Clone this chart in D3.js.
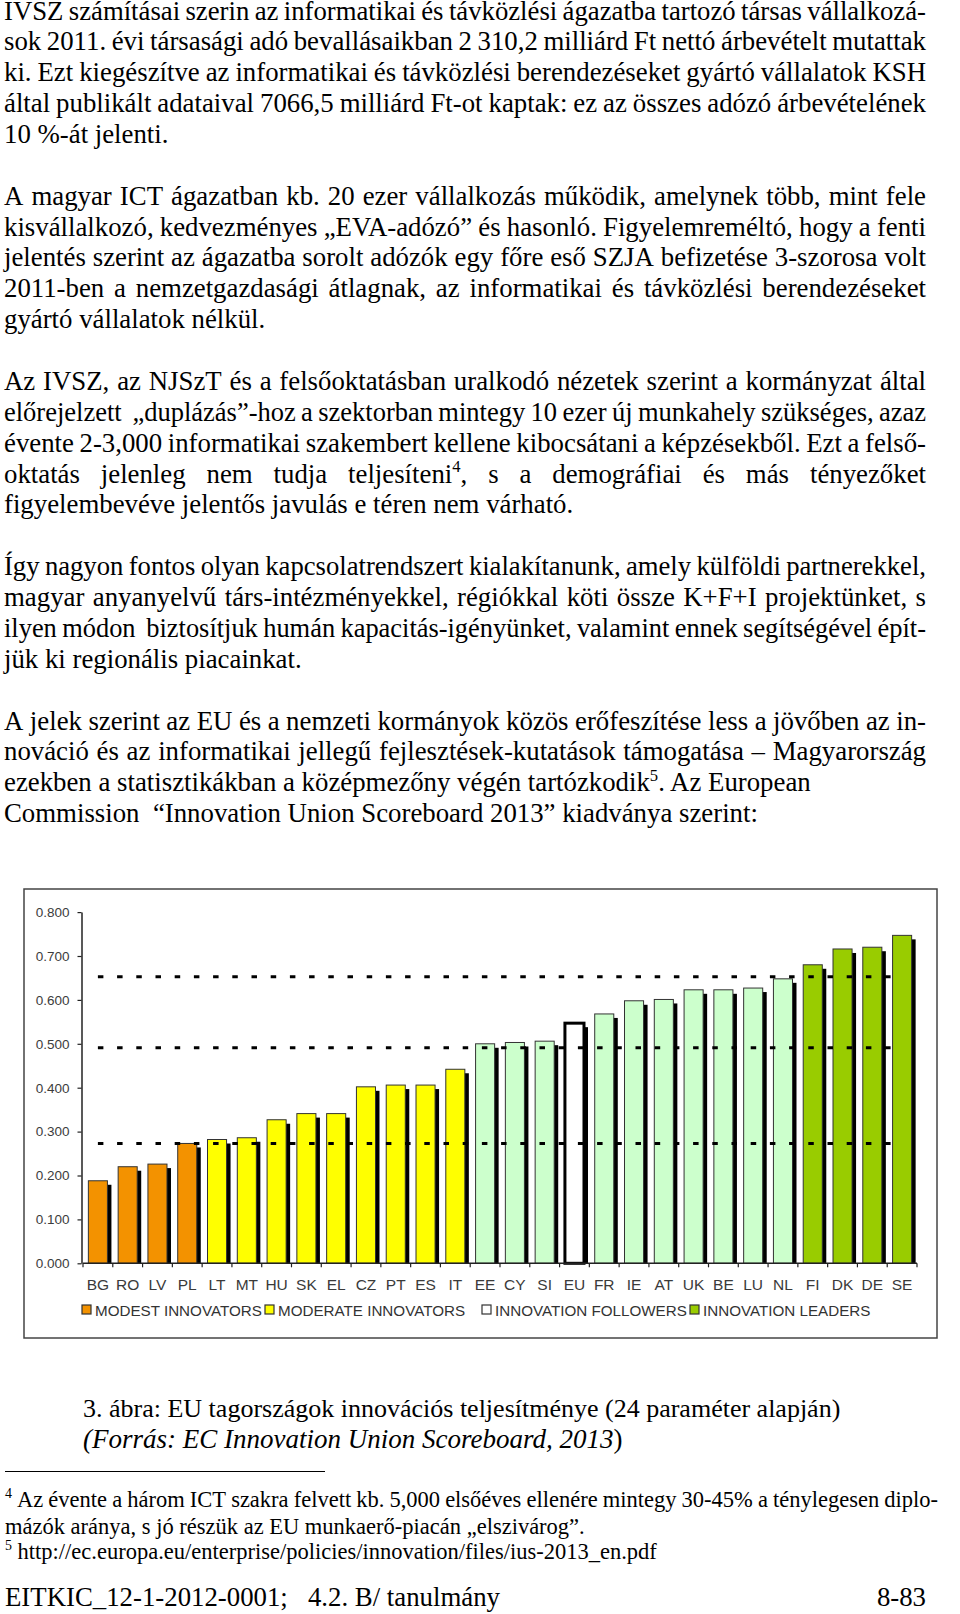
<!DOCTYPE html>
<html>
<head>
<meta charset="utf-8">
<script src="https://cdn.jsdelivr.net/npm/d3@7"></script>
<style>
  html, body { margin: 0; padding: 0; background: #fff; }
  svg { display: block; }
</style>
</head>
<body>
<div id="page"></div>
<script>
// ---- chart data ----
const countries = ["BG", "RO", "LV", "PL", "LT", "MT", "HU", "SK", "EL", "CZ", "PT", "ES", "IT", "EE",
  "CY", "SI", "EU", "FR", "IE", "AT", "UK", "BE", "LU", "NL", "FI", "DK", "DE", "SE"];
const scores = [0.188, 0.220, 0.226, 0.273, 0.282, 0.286, 0.327, 0.341, 0.341, 0.402, 0.406, 0.406, 0.442, 0.500,
  0.503, 0.506, 0.547, 0.568, 0.598, 0.601, 0.623, 0.623, 0.627, 0.648, 0.680, 0.716, 0.720, 0.747];
const groups = ["modest", "modest", "modest", "modest",
  "moderate", "moderate", "moderate", "moderate", "moderate", "moderate", "moderate", "moderate", "moderate",
  "follower", "follower", "follower", "eu", "follower", "follower", "follower", "follower", "follower", "follower", "follower",
  "leader", "leader", "leader", "leader"];
const thresholds = [0.653, 0.491, 0.273];
const yTicks = [0, 0.1, 0.2, 0.3, 0.4, 0.5, 0.6, 0.7, 0.8];
const legendGroups = ["modest", "moderate", "follower", "leader"];
const legendLabels = ["MODEST INNOVATORS", "MODERATE INNOVATORS", "INNOVATION FOLLOWERS", "INNOVATION LEADERS"];

const groupColors = {
  modest: "#F39200",
  moderate: "#FFFF00",
  follower: "#CCFFCC",
  leader: "#99CC00",
  eu: "#FFFFFF"
};
const legendColors = {
  modest: "#F39200",
  moderate: "#FFFF00",
  follower: "#FFFFFF",
  leader: "#99CC00"
};

// ---- page text ----
const para1 = [
  "IVSZ számításai szerin az informatikai és távközlési ágazatba tartozó társas vállalkozá-",
  "sok 2011. évi társasági adó bevallásaikban 2 310,2 milliárd Ft nettó árbevételt mutattak",
  "ki. Ezt kiegészítve az informatikai és távközlési berendezéseket gyártó vállalatok KSH",
  "által publikált adataival 7066,5 milliárd Ft-ot kaptak: ez az összes adózó árbevételének",
  "10 %-át jelenti."
];
const para2 = [
  "A magyar ICT ágazatban kb. 20 ezer vállalkozás működik, amelynek több, mint fele",
  "kisvállalkozó, kedvezményes „EVA-adózó” és hasonló. Figyelemreméltó, hogy a fenti",
  "jelentés szerint az ágazatba sorolt adózók egy főre eső SZJA befizetése 3-szorosa volt",
  "2011-ben a nemzetgazdasági átlagnak, az informatikai és távközlési berendezéseket",
  "gyártó vállalatok nélkül."
];
const para3 = [
  "Az IVSZ, az NJSzT és a felsőoktatásban uralkodó nézetek szerint a kormányzat által",
  "előrejelzett  „duplázás”-hoz a szektorban mintegy 10 ezer új munkahely szükséges, azaz",
  "évente 2-3,000 informatikai szakembert kellene kibocsátani a képzésekből. Ezt a felső-",
  "oktatás jelenleg nem tudja teljesíteni^4, s a demográfiai és más tényezőket",
  "figyelembevéve jelentős javulás e téren nem várható."
];
const para4 = [
  "Így nagyon fontos olyan kapcsolatrendszert kialakítanunk, amely külföldi partnerekkel,",
  "magyar anyanyelvű társ-intézményekkel, régiókkal köti össze K+F+I projektünket, s",
  "ilyen módon  biztosítjuk humán kapacitás-igényünket, valamint ennek segítségével épít-",
  "jük ki regionális piacainkat."
];
const para5 = [
  "A jelek szerint az EU és a nemzeti kormányok közös erőfeszítése less a jövőben az in-",
  "nováció és az informatikai jellegű fejlesztések-kutatások támogatása – Magyarország",
  "ezekben a statisztikákban a középmezőny végén tartózkodik^5. Az European",
  "Commission  “Innovation Union Scoreboard 2013” kiadványa szerint:"
];
const paragraphs = [para1, para2, para3, para4, para5];
const justifiedCounts = [4, 4, 4, 3, 2];

const footnotes = [
  "^4 Az évente a három ICT szakra felvett kb. 5,000 elsőéves ellenére mintegy 30-45% a ténylegesen diplo-",
  "mázók aránya, s jó részük az EU munkaerő-piacán „elszivárog”.",
  "^5 http://ec.europa.eu/enterprise/policies/innovation/files/ius-2013_en.pdf"
];

const width = 960;
const height = 1614;
const serif = "'Liberation Serif', 'Times New Roman', serif";
const sans = "'Liberation Sans', Arial, sans-serif";

const svg = d3.select("#page")
  .append("svg")
  .attr("width", width)
  .attr("height", height)
  .attr("viewBox", `0 0 ${width} ${height}`);

svg.append("rect").attr("width", width).attr("height", height).attr("fill", "#fff");

// writes "word^4" style strings as tspans, superscript digits raised
function addRich(text, str, fontSize) {
  const parts = str.split(/\^(\d)/);
  let raised = false;
  parts.forEach((part, i) => {
    if (part === "") return;
    const sup = i % 2 === 1;
    const t = text.append("tspan").text(part);
    if (sup) {
      t.attr("font-size", fontSize * 0.62).attr("dy", -fontSize * 0.38);
      raised = true;
    } else if (raised) {
      t.attr("dy", fontSize * 0.38);
      raised = false;
    }
  });
}

function drawLine(g, str, x0, x1, y, justify, fontSize) {
  if (!justify) {
    const t = g.append("text")
      .attr("x", x0)
      .attr("y", y)
      .attr("font-size", fontSize)
      .style("white-space", "pre");
    addRich(t, str, fontSize);
    return;
  }
  const words = str.split(" ");
  const nodes = words.map(w => {
    const t = g.append("text").attr("y", y).attr("font-size", fontSize);
    addRich(t, w, fontSize);
    return t;
  });
  let widths = nodes.map(n => n.node().getComputedTextLength());
  const minGap = fontSize * 0.2;
  const room = x1 - x0 - minGap * (words.length - 1);
  // squeeze the glyphs a little when the line would not fit with normal spaces
  if (d3.sum(widths) > room) {
    const s = room / d3.sum(widths);
    nodes.forEach((n, i) => {
      if (widths[i] > 0 && n.selectAll("tspan").size() === 1) {
        n.attr("textLength", widths[i] * s).attr("lengthAdjust", "spacingAndGlyphs");
      }
    });
    widths = widths.map(w => w * s);
  }
  const gap = (x1 - x0 - d3.sum(widths)) / (words.length - 1);
  let x = x0;
  nodes.forEach((n, i) => {
    n.attr("x", x);
    n.selectAll("tspan").filter((d, j) => j === 0).attr("x", x);
    x += widths[i] + gap;
  });
}

// ---- body text ----
const body = svg.append("g").attr("font-family", serif).attr("fill", "#000");
const bodySize = 26.8;
const firstBaseline = 19.5;
const linePitch = 30.87;
const textLeft = 4;
const textRight = 926;

let k = 0;
paragraphs.forEach((para, p) => {
  para.forEach((line, i) => {
    drawLine(body, line, textLeft, textRight, firstBaseline + k * linePitch, i < justifiedCounts[p], bodySize);
    k += 1;
  });
  k += 1;
});

// ---- chart ----
const chart = svg.append("g");

chart.append("rect")
  .attr("x", 24)
  .attr("y", 889)
  .attr("width", 913)
  .attr("height", 449)
  .attr("fill", "#fff")
  .attr("stroke", "#444")
  .attr("stroke-width", 1.5);

const x = d3.scaleBand()
  .domain(countries)
  .range([83, 917])
  .paddingInner(0.36)
  .paddingOuter(0.18);

const y = d3.scaleLinear()
  .domain([0, 0.8])
  .range([1263.3, 912.1]);

const shadowOffset = 4;
const rows = countries.map((c, i) => ({ country: c, value: scores[i], group: groups[i] }));

chart.append("g")
  .selectAll("rect")
  .data(rows)
  .join("rect")
  .attr("x", d => x(d.country) + shadowOffset)
  .attr("y", d => y(d.value) + shadowOffset)
  .attr("width", x.bandwidth())
  .attr("height", d => y(0) - y(d.value) - shadowOffset)
  .attr("fill", "#000");

chart.append("g")
  .selectAll("rect")
  .data(rows)
  .join("rect")
  .attr("x", d => x(d.country))
  .attr("y", d => y(d.value))
  .attr("width", x.bandwidth())
  .attr("height", d => y(0) - y(d.value))
  .attr("fill", d => groupColors[d.group])
  .attr("stroke", d => d.group === "eu" ? "#000" : "#333")
  .attr("stroke-width", d => d.group === "eu" ? 3 : 1);

// group threshold lines
const lineStart = x(countries[0]) + x.bandwidth() / 2;
const lineEnd = x(countries[countries.length - 1]) + x.bandwidth() / 2;
chart.append("g")
  .selectAll("line")
  .data(thresholds)
  .join("line")
  .attr("x1", lineStart)
  .attr("x2", lineEnd)
  .attr("y1", d => y(d))
  .attr("y2", d => y(d))
  .attr("stroke", "#000")
  .attr("stroke-width", 3)
  .attr("stroke-dasharray", "5.5,13.7");

// y axis
const yAxis = chart.append("g")
  .attr("transform", "translate(81.5,0)")
  .call(d3.axisLeft(y).tickValues(yTicks).tickFormat(d3.format(".3f")).tickSize(4).tickSizeOuter(0).tickPadding(8));
yAxis.select(".domain").attr("stroke", "#222").attr("stroke-width", 1.5);
yAxis.selectAll(".tick line").attr("stroke", "#222").attr("stroke-width", 1.2);
yAxis.selectAll(".tick text")
  .attr("font-family", sans)
  .attr("font-size", 13.5)
  .attr("fill", "#3c3c3c");

// x axis with ticks between categories
const step = x.step();
const edge = x.range()[0];
const xAxis = chart.append("g");
xAxis.append("line")
  .attr("x1", x.range()[0])
  .attr("x2", x.range()[1])
  .attr("y1", y(0))
  .attr("y2", y(0))
  .attr("stroke", "#222")
  .attr("stroke-width", 1.5);
xAxis.selectAll("line.tick")
  .data(countries.concat(["end"]))
  .join("line")
  .attr("class", "tick")
  .attr("x1", (d, i) => edge + i * step)
  .attr("x2", (d, i) => edge + i * step)
  .attr("y1", y(0))
  .attr("y2", y(0) + 4)
  .attr("stroke", "#222")
  .attr("stroke-width", 1.2);
xAxis.selectAll("text")
  .data(countries)
  .join("text")
  .attr("x", d => x(d) + x.bandwidth() / 2)
  .attr("y", 1290)
  .attr("text-anchor", "middle")
  .attr("font-family", sans)
  .attr("font-size", 15.5)
  .attr("fill", "#3a3a3a")
  .text(d => d);

// legend, squares placed where the scan has them
const legendX = [82, 265, 482, 690];
const legend = chart.append("g").attr("font-family", sans).attr("font-size", 15.2).attr("fill", "#333");
legendGroups.forEach((g, i) => {
  legend.append("rect")
    .attr("x", legendX[i])
    .attr("y", 1305)
    .attr("width", 9)
    .attr("height", 9)
    .attr("fill", legendColors[g])
    .attr("stroke", "#333")
    .attr("stroke-width", 1.2);
  legend.append("text")
    .attr("x", legendX[i] + 13)
    .attr("y", 1315.5)
    .text(legendLabels[i]);
});

// ---- caption ----
const caption = svg.append("g").attr("font-family", serif).attr("fill", "#000");
caption.append("text")
  .attr("x", 83)
  .attr("y", 1417)
  .attr("font-size", 26)
  .text("3. ábra: EU tagországok innovációs teljesítménye (24 paraméter alapján)");
const cap2 = caption.append("text").attr("x", 83).attr("y", 1448).attr("font-size", 27);
cap2.append("tspan").attr("font-style", "italic").text("(Forrás: EC Innovation Union Scoreboard, 2013");
cap2.append("tspan").text(")");

// ---- footnotes ----
svg.append("line")
  .attr("x1", 5)
  .attr("x2", 325)
  .attr("y1", 1471.5)
  .attr("y2", 1471.5)
  .attr("stroke", "#000")
  .attr("stroke-width", 1);

const notes = svg.append("g").attr("font-family", serif).attr("fill", "#000");
const noteSize = 22.5;
drawLine(notes, footnotes[0], 5, 938, 1507, true, noteSize);
drawLine(notes, footnotes[1], 5, 938, 1533.5, false, noteSize);
drawLine(notes, footnotes[2], 5, 938, 1558.5, false, noteSize);

// ---- page footer ----
const footer = svg.append("g").attr("font-family", serif).attr("font-size", 26.8).attr("fill", "#000");
footer.append("text")
  .attr("x", 5)
  .attr("y", 1606)
  .style("white-space", "pre")
  .text("EITKIC_12-1-2012-0001;   4.2. B/ tanulmány");
footer.append("text")
  .attr("x", 926)
  .attr("y", 1606)
  .attr("text-anchor", "end")
  .text("8-83");
</script>
</body>
</html>
